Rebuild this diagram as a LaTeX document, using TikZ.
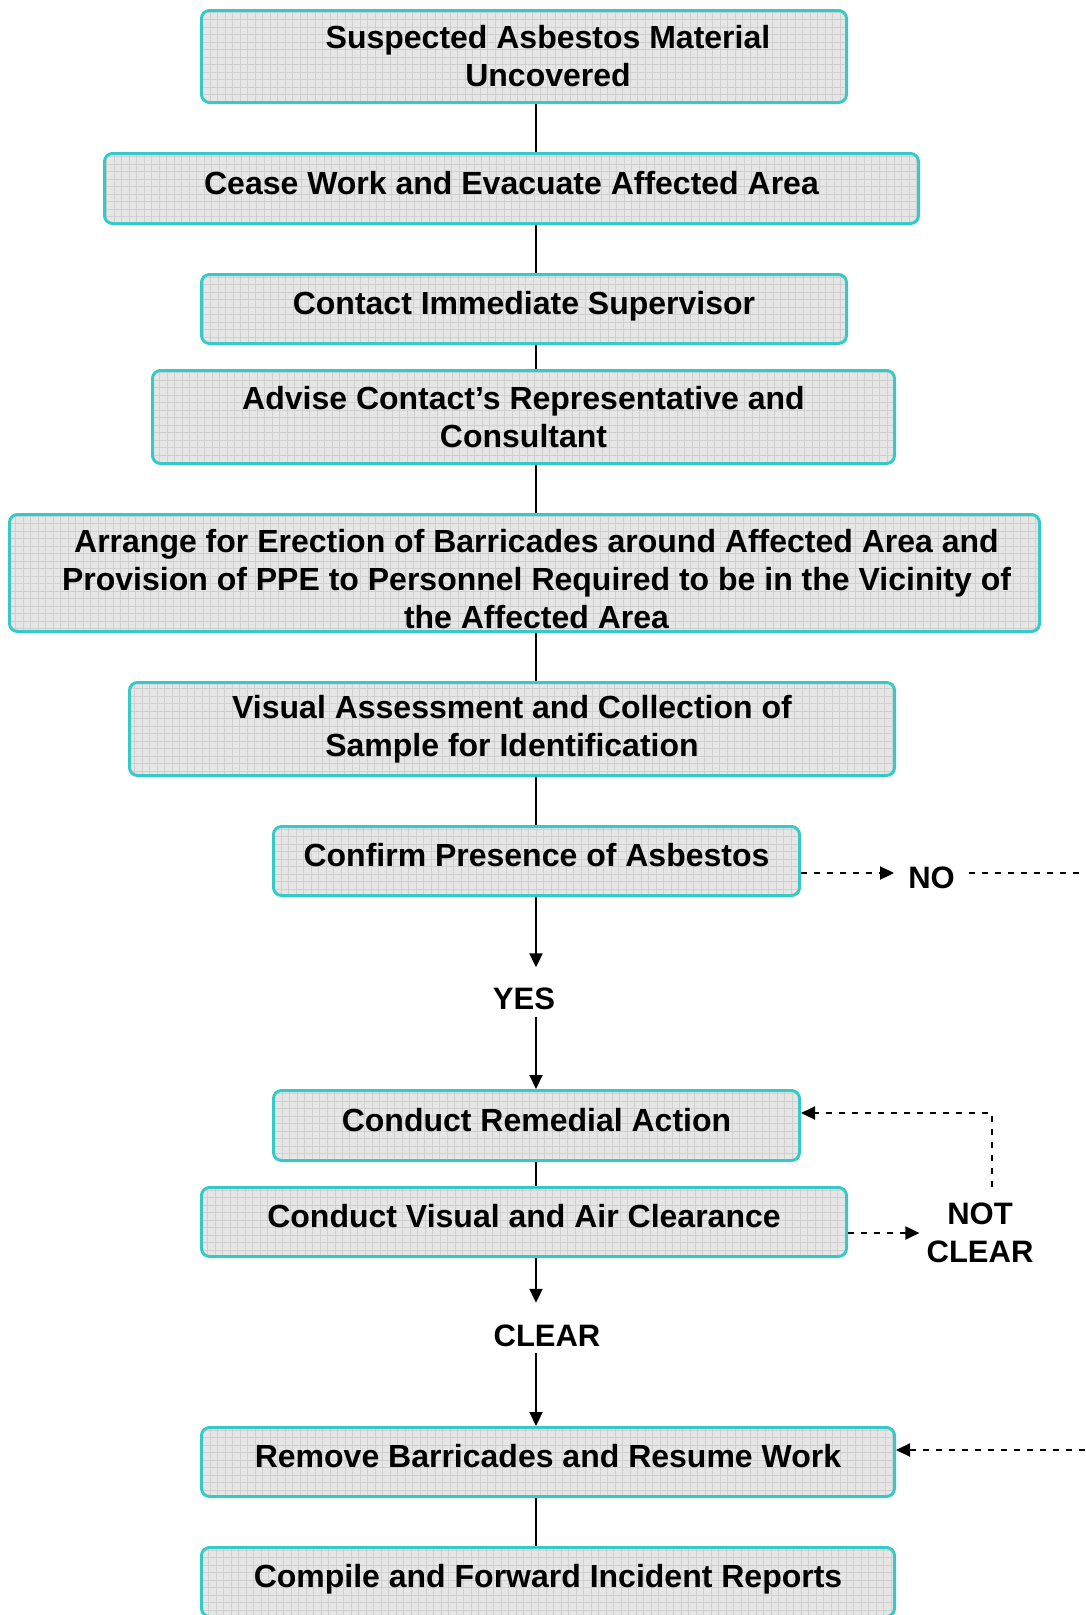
\documentclass[tikz,border=0pt]{standalone}
\usepackage{fontspec}
\setmainfont{Liberation Sans}
\usetikzlibrary{arrows.meta,positioning}
\definecolor{xteal}{HTML}{36C9C6}
\definecolor{xfill}{HTML}{E6E6E6}
\definecolor{xgrid}{HTML}{D0D0D0}

\newcommand{\boxfont}{\fontsize{32}{38}\selectfont\bfseries}
\newcommand{\lblfont}{\fontsize{31}{38}\selectfont\bfseries}
% keeps one-line captions a little above the middle
\newcommand{\lo}{\rule[-12pt]{0pt}{12pt}}

\begin{document}
\begin{tikzpicture}[
    x=1pt, y=-1pt,
    >={Triangle[length=14pt,width=13pt]},
    stepbox/.style={rectangle, draw=xteal, line width=3pt, rounded corners=8pt, fill=xfill, inner sep=0pt, align=center, font=\boxfont,
        path picture={\draw[xgrid, line width=0.6pt, sharp corners] (path picture bounding box.south west) grid[step=7.5pt] (path picture bounding box.north east);}},
    lbl/.style={font=\lblfont, align=center, inner sep=7pt},
    link/.style={line width=2pt},
    arr/.style={->, line width=2pt},
    darr/.style={->, line width=2pt, dash pattern=on 6pt off 7pt},
    dline/.style={line width=2pt, dash pattern=on 6pt off 7pt},
]
\useasboundingbox (0,0) rectangle (1085,1615);
\clip (0,0) rectangle (1085,1615);

\coordinate (spine) at (536,0);
\coordinate (loopx) at (992,0);

% Steps
\node[stepbox, minimum width=645pt, minimum height=92pt] (found) at (524,56.5)
    {\hspace*{48pt}Suspected Asbestos Material\\\hspace*{48pt}Uncovered};
\node[stepbox, minimum width=814pt, minimum height=70pt] (cease) at (511.5,188.5)
    {Cease Work and Evacuate Affected Area\lo};
\node[stepbox, minimum width=645pt, minimum height=69pt] (supv) at (524,309)
    {Contact Immediate Supervisor\lo};
\node[stepbox, minimum width=742pt, minimum height=93pt] (advise) at (523.5,417)
    {Advise Contact’s Representative and\\Consultant};
\node[stepbox, minimum width=1030pt, minimum height=117pt] (barr) at (524.5,573)
    {\hspace*{24pt}\rule{0pt}{35pt}Arrange for Erection of Barricades around Affected Area and\\
     \hspace*{24pt}Provision of PPE to Personnel Required to be in the Vicinity of\\
     \hspace*{24pt}the Affected Area};
\node[stepbox, minimum width=765pt, minimum height=93pt] (assess) at (512,729)
    {Visual Assessment and Collection of\\Sample for Identification};
\node[stepbox, minimum width=526pt, minimum height=69pt] (confirm) at (536.5,861)
    {Confirm Presence of Asbestos\lo};
\node[stepbox, minimum width=526pt, minimum height=70pt] (remedy) at (536.5,1125.5)
    {Conduct Remedial Action\lo};
\node[stepbox, minimum width=645pt, minimum height=69pt] (clearance) at (524,1222)
    {Conduct Visual and Air Clearance\lo};
\node[stepbox, minimum width=693pt, minimum height=69pt] (resume) at (548,1462)
    {Remove Barricades and Resume Work\lo};
\node[stepbox, minimum width=693pt, minimum height=69pt] (report) at (548,1582)
    {Compile and Forward Incident Reports\lo};

% Outcomes
\node[lbl, text height=35pt, text depth=0pt] (yes) at (524,992) {YES};
\node[lbl, text height=36pt, text depth=0pt] (clear) at (547,1328) {CLEAR};
\node[lbl, inner xsep=14pt] (no) at (931.5,878) {NO};
\node[lbl, inner xsep=7pt, inner ysep=16pt] (notclear) at (980,1233) {NOT\\CLEAR};

\coordinate (noline) at (1085,873);
\coordinate (noback) at (1085,1450);

% Main line
\draw[link] (found.south -| spine) -- (cease.north -| spine);
\draw[link] (cease.south -| spine) -- (supv.north -| spine);
\draw[link] (supv.south -| spine) -- (advise.north -| spine);
\draw[link] (advise.south -| spine) -- (barr.north -| spine);
\draw[link] (barr.south -| spine) -- (assess.north -| spine);
\draw[link] (assess.south -| spine) -- (confirm.north -| spine);
\draw[arr] (confirm.south -| spine) -- (yes.north -| spine);
\draw[arr] (yes.south -| spine) -- (remedy.north -| spine);
\draw[link] (remedy.south -| spine) -- (clearance.north -| spine);
\draw[arr] (clearance.south -| spine) -- (clear.north -| spine);
\draw[arr] (clear.south -| spine) -- (resume.north -| spine);
\draw[link] (resume.south -| spine) -- (report.north -| spine);

% Side branches
\draw[darr] (confirm.east |- noline) -- (no.west |- noline);
\draw[dline] (no.east |- noline) -- (noline);
\draw[darr] (noback) -- (resume.east |- noback);
\draw[darr] (clearance.east |- notclear.west) -- (notclear.west);
\draw[darr] (notclear.north -| loopx) |- ([yshift=12.5pt]remedy.east);

\end{tikzpicture}
\end{document}
